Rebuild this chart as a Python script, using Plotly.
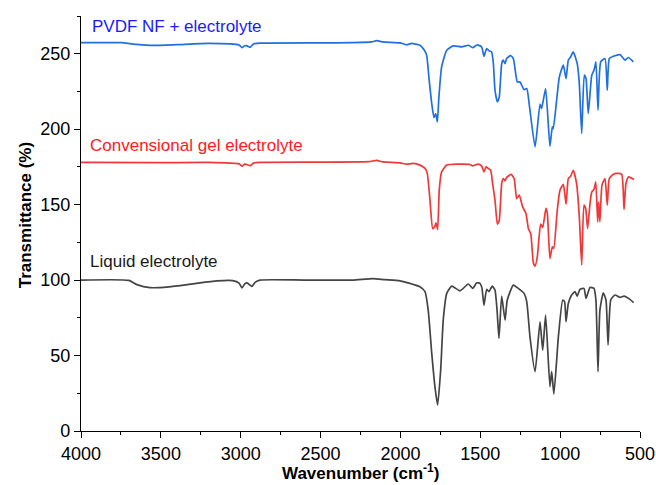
import plotly.graph_objects as go

# ---------------- data ----------------
wn_liquid = [4000, 3700, 3650, 3568, 3450, 3300, 3150, 3050, 3010, 2992, 2975, 2960, 2940, 2929, 2910, 2879,
             2600, 2300, 2172, 2100, 2003, 1953, 1878, 1846, 1826, 1804, 1784, 1767, 1748, 1732, 1710, 1679,
             1627, 1575, 1548, 1522, 1502, 1490, 1477, 1460, 1446, 1425, 1408, 1395, 1383, 1366, 1345, 1331,
             1293, 1262, 1226, 1209, 1189, 1157, 1126, 1109, 1091, 1064, 1053, 1039, 1011, 984, 972, 963, 949,
             928, 907, 893, 876, 851, 838, 813, 788, 776, 763, 751, 730, 713, 700, 683, 657, 625, 600, 563, 540]
t_liquid = [100, 99.8, 97, 95, 95.5, 97.5, 99.5, 99.7, 98, 94.8, 97.5, 98.2, 96.5, 95.8, 98.5, 100,
            100, 100, 101, 100.3, 99.5, 98.2, 95.6, 92.3, 80, 51.6, 29.4, 17.2, 40.4, 73.5, 91.2, 96,
            92.9, 97.4, 94.5, 98.2, 97.8, 95, 83.4, 93.8, 92.3, 96, 93.4, 80, 61.4, 89.4, 73.5, 86.8,
            96.7, 94.5, 91.2, 85.6, 62.5, 39.3, 72.4, 53.6, 76.8, 29.4, 39.3, 24.5, 62.5, 86.8, 85.6, 72.4, 84.5,
            90.1, 92.3, 89.4, 93.8, 94.5, 87.9, 95.1, 94.5, 86.8, 39.3, 80.1, 91.6, 86.8, 57, 86.8, 90.1, 88.5, 89.4, 87.2, 85]

wn_gel = [4000, 3500, 3200, 3010, 2992, 2975, 2960, 2940, 2920, 2880, 2500, 2200, 2147, 2110, 2003, 1961,
          1920, 1878, 1846, 1832, 1815, 1798, 1788, 1777, 1767, 1757, 1742, 1710, 1638, 1565, 1548, 1513,
          1491, 1477, 1464, 1450, 1435, 1423, 1408, 1393, 1381, 1366, 1356, 1345, 1335, 1307, 1288, 1272,
          1256, 1235, 1214, 1199, 1184, 1168, 1157, 1143, 1122, 1109, 1089, 1080, 1064, 1049, 1040, 1018,
          1001, 980, 963, 949, 934, 918, 897, 880, 865, 851, 840, 828, 813, 802, 788, 777, 765, 759, 751,
          738, 719, 705, 692, 667, 646, 615, 600, 588, 571, 538]
t_gel = [178, 177.8, 178, 177, 175.5, 176.8, 176.5, 175.8, 177.5, 178, 178.2, 178.5, 179.3, 178.3, 177.7, 176.8,
         177.3, 176.2, 174, 170.7, 153, 134.2, 134.8, 137.9, 133.5, 159.6, 171.7, 176.2, 176.8, 176.6, 175.7, 176.8,
         175.5, 171.7, 175, 174, 172.8, 164, 153, 137.1, 139.7, 164, 167.3, 165.8, 168, 170, 167.3, 154,
         156.3, 148.5, 144.1, 134.2, 130.8, 111.5, 109.3, 115.4, 137.1, 134.9, 147.5, 144.1, 114.3, 122, 121, 146.4,
         159.6, 163.4, 150.3, 167.3, 168.9, 172.8, 164, 141.9, 109.9, 149.7, 147.5, 134.2, 150.7, 158.5, 160.1, 165.1, 138.6, 151.9, 138.6,
         162.9, 167.3, 149.7, 167.3, 170.2, 170.7, 170.2, 146.8, 164, 168.4, 166.6]

wn_pvdf = [4000, 3750, 3650, 3550, 3400, 3200, 3010, 2992, 2975, 2960, 2940, 2920, 2880, 2500, 2300, 2180,
           2147, 2110, 2003, 1961, 1930, 1878, 1853, 1836, 1820, 1804, 1790, 1779, 1769, 1759, 1742, 1710,
           1669, 1617, 1575, 1548, 1519, 1491, 1477, 1460, 1444, 1429, 1418, 1408, 1393, 1381, 1366, 1356,
           1345, 1335, 1310, 1293, 1268, 1251, 1226, 1209, 1193, 1157, 1126, 1116, 1091, 1064, 1049, 1043,
           1005, 980, 963, 949, 934, 918, 893, 880, 865, 849, 838, 824, 802, 788, 776, 763, 746, 719, 705,
           692, 667, 625, 594, 573, 542]
t_pvdf = [257.3, 257.3, 256.2, 255.5, 256, 256.8, 255.8, 254, 255.3, 255.2, 254.3, 256.5, 257, 257.2, 257.3, 257.8,
          258.7, 257.8, 257.2, 255.9, 256.8, 255.6, 252.8, 249, 232.5, 217, 207.7, 210.4, 204.8, 221.4, 241.3, 252.3,
          255.2, 254.5, 255.6, 254.1, 255.9, 254.5, 248.3, 253.4, 251.9, 251.2, 243.4, 225.8, 218.1, 221.4, 243.4, 245.7,
          243.4, 246.8, 248.8, 246.8, 231.3, 231.3, 226.2, 226.9, 216, 188.3, 216.6, 213.7, 226.9, 188.7, 201.5, 200.4,
          234.6, 242.4, 233.5, 245.7, 247.9, 251.2, 243.4, 230.2, 197.1, 235.8, 233.5, 210.4, 235.8, 239.1, 244.6, 212.6, 244.6, 246.8, 225.8,
          246.8, 248.3, 249.4, 245.7, 247.5, 244.6]

series_names = ["Liquid electrolyte", "Convensional gel electrolyte", "PVDF NF + electrolyte"]
line_colors = ["#444444", "#f03838", "#2070e0"]
label_colors = ["#1a1a1a", "#ff1a1a", "#1a1aff"]
label_x = [3955, 3955, 3944]
label_y = [112, 189.5, 268]

x_ticks = [4000, 3500, 3000, 2500, 2000, 1500, 1000, 500]
y_ticks = [0, 50, 100, 150, 200, 250]
x_title = "<b>Wavenumber (cm<sup>-1</sup>)</b>"
y_title = "<b>Transmittance (%)</b>"

FONT = "Arial, 'Liberation Sans', sans-serif"

fig = go.Figure()
for wn, t, name, col in zip([wn_liquid, wn_gel, wn_pvdf], [t_liquid, t_gel, t_pvdf], series_names, line_colors):
    fig.add_trace(go.Scatter(x=wn, y=t, mode="lines", name=name,
                             line=dict(color=col, width=1.7, shape="spline", smoothing=0.5)))

for name, col, lx, ly in zip(series_names, label_colors, label_x, label_y):
    fig.add_annotation(x=lx, y=ly, text=name, showarrow=False, xanchor="left", yanchor="middle",
                       font=dict(family=FONT, size=17, color=col))

# axis titles placed as annotations for precise positioning
fig.add_annotation(xref="paper", yref="paper", x=0.5, y=-0.068, text=x_title, showarrow=False,
                   xanchor="center", yanchor="top", font=dict(family=FONT, size=17, color="black"))
fig.add_annotation(xref="paper", yref="paper", x=-0.100, y=0.52, text=y_title, showarrow=False,
                   textangle=-90, xanchor="center", yanchor="middle",
                   font=dict(family=FONT, size=17, color="black"))

axis_common = dict(showline=True, linecolor="black", linewidth=1.3, ticks="outside", ticklen=6,
                   tickwidth=1.3, tickcolor="black", showgrid=False, zeroline=False, mirror=False,
                   automargin=False, tickfont=dict(family=FONT, size=18, color="black"))

fig.update_xaxes(range=[4000, 500], tickvals=x_ticks,
                 minor=dict(dtick=250, ticks="outside", ticklen=3, tickwidth=1.3, tickcolor="black", tick0=0),
                 **axis_common)
fig.update_yaxes(range=[0, 275], tickvals=y_ticks,
                 minor=dict(dtick=25, ticks="outside", ticklen=3, tickwidth=1.3, tickcolor="black", tick0=0),
                 **axis_common)

fig.update_layout(width=656, height=485, margin=dict(l=81, r=16, t=16, b=54),
                  plot_bgcolor="white", paper_bgcolor="white", showlegend=False,
                  font=dict(family=FONT))

fig.write_html("out.html")
